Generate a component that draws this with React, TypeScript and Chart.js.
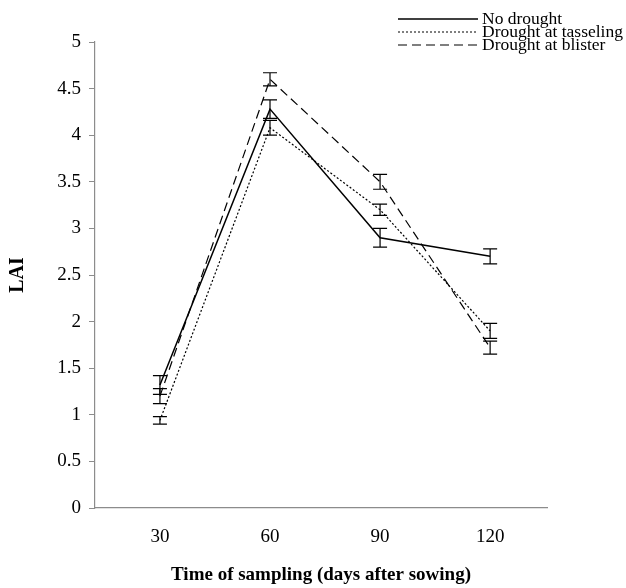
import React, { useEffect, useRef } from "react";
import { Chart, registerables } from "chart.js";

Chart.register(...registerables);

const categories = [30, 60, 90, 120];
const noDrought = [1.32, 4.28, 2.9, 2.7];
const tasseling = [0.94, 4.08, 3.2, 1.9];
const blister = [1.2, 4.6, 3.5, 1.72];
const noDroughtErr = [0.1, 0.1, 0.1, 0.08];
const tasselingErr = [0.04, 0.08, 0.06, 0.08];
const blisterErr = [0.08, 0.07, 0.08, 0.07];
const seriesNames = ["No drought", "Drought at tasseling", "Drought at blister"];
const yTicks = [0, 0.5, 1, 1.5, 2, 2.5, 3, 3.5, 4, 4.5, 5];

const FONT = "'Liberation Serif', 'Times New Roman', serif";

const toPoints = (vals: number[]) => categories.map((c, i) => ({ x: c, y: vals[i] }));

const errorBarPlugin = {
  id: "errorBars",
  afterDatasetsDraw(chart: any) {
    const ctx = chart.ctx;
    const yScale = chart.scales.y;
    ctx.save();
    ctx.strokeStyle = "#000";
    ctx.lineWidth = 1.2;
    ctx.setLineDash([]);
    chart.data.datasets.forEach((ds: any, i: number) => {
      const meta = chart.getDatasetMeta(i);
      const errs: number[] = ds.errors || [];
      meta.data.forEach((pt: any, j: number) => {
        const v = ds.data[j].y;
        const e = errs[j] || 0;
        const x = pt.x;
        const yTop = yScale.getPixelForValue(v + e);
        const yBot = yScale.getPixelForValue(v - e);
        const cap = 7;
        ctx.beginPath();
        ctx.moveTo(x, yTop);
        ctx.lineTo(x, yBot);
        ctx.moveTo(x - cap, yTop);
        ctx.lineTo(x + cap, yTop);
        ctx.moveTo(x - cap, yBot);
        ctx.lineTo(x + cap, yBot);
        ctx.stroke();
      });
    });
    ctx.restore();
  },
};

const legendPlugin = {
  id: "customLegend",
  afterDraw(chart: any) {
    const ctx = chart.ctx;
    ctx.save();
    const x0 = 398;
    const lineLen = 80;
    const startY = 19;
    const rowH = 13;
    chart.data.datasets.forEach((ds: any, i: number) => {
      const y = startY + i * rowH;
      ctx.beginPath();
      ctx.strokeStyle = "#000";
      ctx.lineWidth = ds.borderWidth || 1;
      ctx.setLineDash(ds.borderDash || []);
      ctx.moveTo(x0, y);
      ctx.lineTo(x0 + lineLen, y);
      ctx.stroke();
      ctx.setLineDash([]);
      ctx.fillStyle = "#000";
      ctx.font = `17.5px ${FONT}`;
      ctx.textBaseline = "middle";
      ctx.textAlign = "left";
      ctx.fillText(seriesNames[i], x0 + lineLen + 4, y);
    });
    ctx.restore();
  },
};

export default function App() {
  const ref = useRef<HTMLCanvasElement | null>(null);
  useEffect(() => {
    document.body.style.margin = "0";
    if (!ref.current) return;
    const chart = new Chart(ref.current, {
      type: "line",
      data: {
        datasets: [
          {
            label: seriesNames[0],
            data: toPoints(noDrought),
            errors: noDroughtErr,
            borderColor: "#000",
            borderWidth: 1.5,
            borderDash: [],
            pointRadius: 0,
            fill: false,
            tension: 0,
          } as any,
          {
            label: seriesNames[1],
            data: toPoints(tasseling),
            errors: tasselingErr,
            borderColor: "#000",
            borderWidth: 1.2,
            borderDash: [2, 2],
            pointRadius: 0,
            fill: false,
            tension: 0,
          } as any,
          {
            label: seriesNames[2],
            data: toPoints(blister),
            errors: blisterErr,
            borderColor: "#000",
            borderWidth: 1.2,
            borderDash: [9, 5],
            pointRadius: 0,
            fill: false,
            tension: 0,
          } as any,
        ],
      },
      options: {
        animation: false,
        responsive: false,
        maintainAspectRatio: false,
        layout: { padding: { top: 42, right: 79, left: 0, bottom: 0 } },
        plugins: {
          legend: { display: false },
          tooltip: { enabled: false },
        },
        scales: {
          x: {
            type: "linear",
            min: 12.3,
            max: 135.5,
            afterBuildTicks(scale: any) {
              scale.ticks = categories.map((v) => ({ value: v }));
            },
            afterFit(scale: any) {
              scale.height = 80;
            },
            grid: { display: false, drawOnChartArea: false },
            border: { display: true, color: "#8c8c8c", width: 1.2 },
            ticks: {
              color: "#000",
              font: { family: FONT, size: 19 },
              padding: 10,
              callback: (v: any) => String(v),
            },
            title: {
              display: true,
              text: "Time of sampling (days after sowing)",
              color: "#000",
              font: { family: FONT, size: 19, weight: "bold" },
              padding: { top: 0, bottom: 2 },
            },
          },
          y: {
            min: 0,
            max: 5,
            afterBuildTicks(scale: any) {
              scale.ticks = yTicks.map((v) => ({ value: v }));
            },
            afterFit(scale: any) {
              scale.width = 95;
            },
            grid: {
              display: true,
              drawOnChartArea: false,
              drawTicks: true,
              tickLength: 6,
              color: "#8c8c8c",
            },
            border: { display: true, color: "#8c8c8c", width: 1.2 },
            ticks: {
              color: "#000",
              font: { family: FONT, size: 19 },
              padding: 8,
              callback: (v: any) => String(v),
            },
            title: {
              display: true,
              text: "LAI",
              color: "#000",
              font: { family: FONT, size: 20, weight: "bold" },
              padding: { top: 6, bottom: 0 },
            },
          },
        },
      } as any,
      plugins: [errorBarPlugin, legendPlugin],
    });
    return () => chart.destroy();
  }, []);
  return (
    <div style={{ width: 626, height: 588 }}>
      <canvas ref={ref} width={626} height={588} style={{ width: 626, height: 588, display: "block" }} />
    </div>
  );
}
